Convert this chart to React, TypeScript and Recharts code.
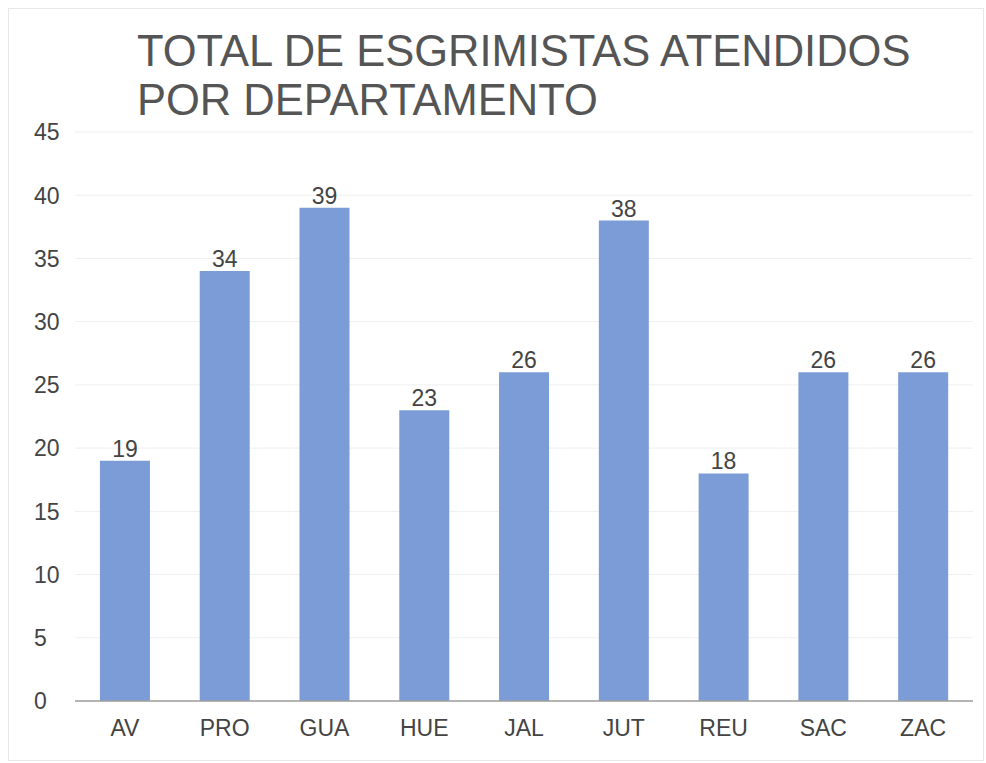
import { BarChart, Bar, XAxis, YAxis, CartesianGrid, LabelList } from 'recharts';

const departamentos = ['AV', 'PRO', 'GUA', 'HUE', 'JAL', 'JUT', 'REU', 'SAC', 'ZAC'];
const esgrimistas = [19, 34, 39, 23, 26, 38, 18, 26, 26];
const yTicks = [0, 5, 10, 15, 20, 25, 30, 35, 40, 45];

const data = departamentos.map((d, i) => ({ depto: d, total: esgrimistas[i] }));

const FONT = '"Liberation Sans", Arial, sans-serif';
const COLOR_BARRA = '#7b9cd6';
const COLOR_TEXTO = '#444444';

// ticks del eje Y alineados a la izquierda, como en la hoja original
function YTick(props: any) {
  const { y, payload } = props;
  return (
    <text x={34} y={y} dy="0.36em" textAnchor="start" fontSize={23} fill={COLOR_TEXTO} fontFamily={FONT}>
      {payload.value}
    </text>
  );
}

export default function App() {
  return (
    <div style={{ position: 'absolute', left: 0, top: 0, width: 986, height: 763, background: '#fff' }}>
      <div
        style={{
          position: 'absolute',
          left: 8,
          top: 8,
          width: 976,
          height: 753,
          border: '1px solid #e8e8e8',
          boxSizing: 'border-box',
        }}
      />
      <div
        style={{
          position: 'absolute',
          left: 137,
          top: 27,
          fontFamily: FONT,
          fontSize: 43.5,
          lineHeight: '49px',
          color: '#555555',
          whiteSpace: 'nowrap',
        }}
      >
        TOTAL DE ESGRIMISTAS ATENDIDOS
        <br />
        POR DEPARTAMENTO
      </div>
      <div style={{ position: 'absolute', left: 0, top: 0 }}>
        <BarChart
          width={986}
          height={763}
          data={data}
          margin={{ top: 132, right: 13, left: 0, bottom: 22 }}
          barCategoryGap="25%"
        >
          <CartesianGrid vertical={false} stroke="#efefef" />
          <XAxis
            dataKey="depto"
            height={40}
            tickLine={false}
            tickSize={0}
            tickMargin={19}
            axisLine={{ stroke: '#9e9e9e', strokeWidth: 1.5 }}
            tick={{ fontSize: 23, fill: COLOR_TEXTO, fontFamily: FONT }}
          />
          <YAxis
            width={75}
            domain={[0, 45]}
            ticks={yTicks}
            axisLine={false}
            tickLine={false}
            tick={<YTick />}
          />
          <Bar dataKey="total" fill={COLOR_BARRA} isAnimationActive={false}>
            <LabelList
              dataKey="total"
              position="top"
              offset={4}
              style={{ fontSize: 23, fill: COLOR_TEXTO, fontFamily: FONT }}
            />
          </Bar>
        </BarChart>
      </div>
    </div>
  );
}
